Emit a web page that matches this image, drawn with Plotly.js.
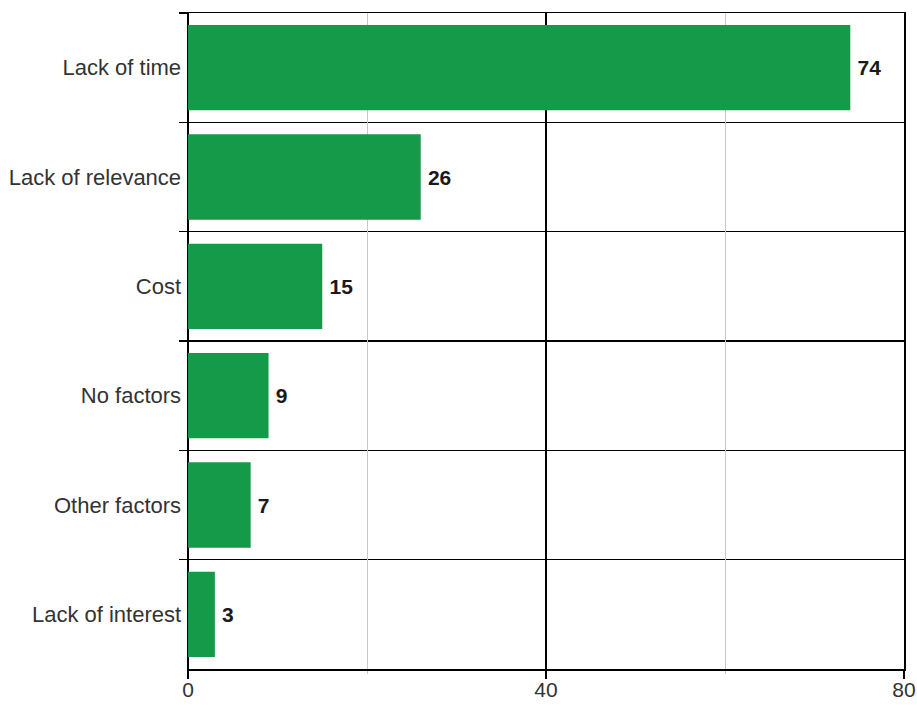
<!DOCTYPE html>
<html>
<head>
<meta charset="utf-8">
<script src="https://cdn.plot.ly/plotly-3.0.1.min.js"></script>
<style>html,body{margin:0;padding:0;background:#fff;}#chart{width:917px;height:705px;}</style>
</head>
<body>
<div id="chart"></div>
<script>
const categories = ["Lack of time", "Lack of relevance", "Cost", "No factors", "Other factors", "Lack of interest"];
const values = [74, 26, 15, 9, 7, 3];
const majorTicks = [0, 40, 80];
const minorTicks = [20, 60];

const barColor = "#149a48";
const font = "Liberation Sans, Arial, sans-serif";

const traces = [
  {
    type: "bar",
    orientation: "h",
    x: values,
    y: categories,
    marker: {color: barColor, line: {width: 0}},
    text: values.map(v => "\u2009" + v),
    textposition: "outside",
    textfont: {family: font, size: 21, color: "#1a1a1a", weight: "bold"},
    cliponaxis: false,
    hoverinfo: "none",
    xaxis: "x",
    yaxis: "y"
  },
  {
    type: "scatter",
    mode: "markers",
    x: [minorTicks[0]],
    y: [categories[0]],
    marker: {opacity: 0},
    xaxis: "x2",
    yaxis: "y",
    hoverinfo: "none",
    showlegend: false
  }
];

const layout = {
  width: 917,
  height: 705,
  margin: {l: 188, r: 13, t: 13, b: 36},
  paper_bgcolor: "#fff",
  plot_bgcolor: "rgba(0,0,0,0)",
  showlegend: false,
  bargap: 0.22,
  font: {family: font, size: 22, color: "#333"},
  xaxis: {
    range: [0, 80],
    tickvals: majorTicks,
    ticktext: majorTicks.map(String),
    showgrid: true,
    gridcolor: "#000",
    gridwidth: 1.5,
    zeroline: true,
    zerolinecolor: "#000",
    zerolinewidth: 1.5,
    showline: true,
    linecolor: "#000",
    linewidth: 1.5,
    mirror: true,
    ticks: "outside",
    ticklen: 8,
    tickcolor: "#000",
    tickwidth: 1.5,
    ticklabelstandoff: -7,
    tickfont: {family: font, size: 21, color: "#333"},
    fixedrange: true,
    layer: "above traces"
  },
  xaxis2: {
    range: [0, 80],
    overlaying: "x",
    side: "bottom",
    tickvals: minorTicks,
    showticklabels: false,
    showgrid: true,
    gridcolor: "#c8c8c8",
    gridwidth: 1,
    zeroline: false,
    ticks: "outside",
    ticklen: 4,
    tickcolor: "#c8c8c8",
    layer: "below traces"
  },
  yaxis: {
    type: "category",
    categoryorder: "array",
    categoryarray: categories,
    autorange: "reversed",
    tickson: "boundaries",
    ticks: "outside",
    ticklen: 8,
    tickcolor: "#000",
    tickwidth: 1.5,
    showgrid: true,
    gridcolor: "#000",
    gridwidth: 1.5,
    showline: true,
    linecolor: "#000",
    linewidth: 1.5,
    mirror: true,
    ticklabelstandoff: 1,
    tickfont: {family: font, size: 22, color: "#333"},
    fixedrange: true
  }
};

Plotly.newPlot("chart", traces, layout, {displayModeBar: false, staticPlot: true});
</script>
</body>
</html>
